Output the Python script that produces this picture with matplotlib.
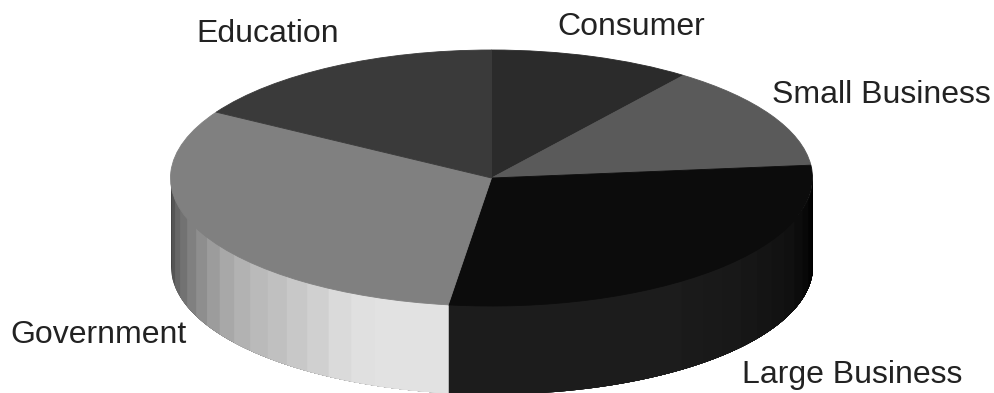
import numpy as np
import matplotlib
matplotlib.use("Agg")
import matplotlib.pyplot as plt

plt.rcParams["font.family"] = ["Liberation Sans", "DejaVu Sans"]

# clockwise from 12 o'clock
categories = ["Consumer", "Small Business", "Large Business", "Government", "Education"]
shares = [10.2, 13.2, 28.75, 31.45, 16.4]
top_colors = ["#2b2b2b", "#5a5a5a", "#0c0c0c", "#808080", "#3a3a3a"]

# side wall shading, clockwise along the front edge
large_side = [0x1c] * 9 + [0x1a, 0x19, 0x18, 0x16, 0x14, 0x12, 0x10, 0x0c, 0x08, 0x03, 0x00]
gov_side = [0xe2, 0xe2, 0xe2, 0xe0, 0xda, 0xd0, 0xc8, 0xc0, 0xba, 0xb2,
            0xa8, 0x9c, 0x8e, 0x80, 0x72, 0x66, 0x55, 0x45]

# pixel layout of the reference
W, H = 995, 393
CX, CY = 491.5, 178
RX, RY = 321, 128
DEPTH = 88 / RY
label_pos = [(631, 27), (881, 95), (852, 375), (99, 335), (268, 34)]


def draw_side(ax, start, end, shades):
    # each band runs on to the end so the next one covers it, no seams
    edges = np.linspace(start, end, len(shades) + 1)
    for i, g in enumerate(shades):
        t = np.radians(np.linspace(edges[i], end, 80))
        c = "#%02x%02x%02x" % (g, g, g)
        ax.fill_between(np.cos(t), np.sin(t) - DEPTH, np.sin(t) * 0.97, color=c, lw=0, zorder=1)


def main():
    fig = plt.figure(figsize=(W / 100, H / 100), dpi=100)
    ax = fig.add_axes([0, 0, 1, 1])

    # pie angles go clockwise from 90
    angles = 90 - np.cumsum(shares) / sum(shares) * 360
    split = 360 + angles[2]

    # government wall from 9 o'clock to the split, large business from there to 3 o'clock
    draw_side(ax, 180, split, gov_side[::-1])
    draw_side(ax, split, 360, large_side)

    wedges, _ = ax.pie(shares, colors=top_colors, startangle=90, counterclock=False, radius=1)
    for w, c in zip(wedges, top_colors):
        w.set_zorder(2)
        w.set_edgecolor(c)
        w.set_linewidth(0.6)

    ax.set_aspect("auto")
    ax.set_xlim(-CX / RX, (W - CX) / RX)
    ax.set_ylim(-(H - CY) / RY, CY / RY)
    ax.axis("off")

    for name, (px, py) in zip(categories, label_pos):
        ax.text(px / W, 1 - py / H, name, transform=ax.transAxes, ha="center", va="center",
                fontsize=23, color="#222222")

    fig.savefig("out.png", dpi=100)


if __name__ == "__main__":
    main()
